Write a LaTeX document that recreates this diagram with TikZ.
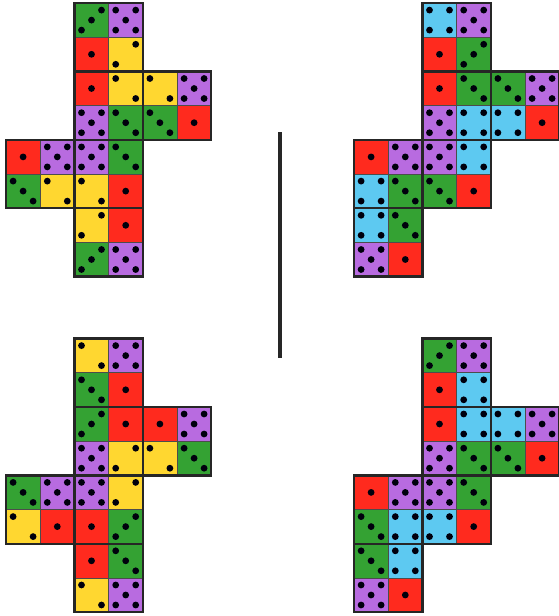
\documentclass[tikz,border=0pt]{standalone}
\definecolor{diceRed}{HTML}{FF2A1E}
\definecolor{diceYellow}{HTML}{FFD730}
\definecolor{diceGreen}{HTML}{34A233}
\definecolor{diceBlue}{HTML}{5DC9F1}
\definecolor{dicePurple}{HTML}{B86BE0}
\colorlet{dcR}{diceRed}
\colorlet{dcYa}{diceYellow}
\colorlet{dcYb}{diceYellow}
\colorlet{dcGa}{diceGreen}
\colorlet{dcGb}{diceGreen}
\colorlet{dcB}{diceBlue}
\colorlet{dcP}{dicePurple}
\usepackage{tikz}
\usetikzlibrary{positioning}
% pip offsets (y runs downwards)
\newcommand{\pipsR}{0/0}
\newcommand{\pipsYa}{-10/-10,10/10}
\newcommand{\pipsYb}{10/-10,-10/10}
\newcommand{\pipsGa}{-10/-10,0/0,10/10}
\newcommand{\pipsGb}{10/-10,0/0,-10/10}
\newcommand{\pipsB}{-10/-10,10/-10,-10/10,10/10}
\newcommand{\pipsP}{-10/-10,10/-10,0/0,-10/10,10/10}
\newcommand{\cell}{34.2}
\newcommand{\dicenet}[4]{% name, shift, faces, dice
  \begin{scope}[shift={#2}]
    \foreach \dcol/\drow/\dkind in {#4} {
      \node[die, fill=dc\dkind] (#1-\dcol-\drow)
        at ({(\dcol+0.5)*\cell},{(\drow+0.5)*\cell}) {};
      \expandafter\let\expandafter\piplist\csname pips\dkind\endcsname
      \foreach \px/\py in \piplist
        \fill[pip] (#1-\dcol-\drow) ++(\px,\py) circle (3.4pt);
    }
    \foreach \fcol/\frow in {#3}
      \node[facebox] (#1-f\fcol\frow)
        at ({(\fcol+1)*\cell},{(\frow+1)*\cell}) {};
  \end{scope}}

\begin{document}
\begin{tikzpicture}[x=1pt, y=-1pt,
  die/.style={draw=black!70, line width=0.7pt, minimum size=34.2pt,
    inner sep=0pt, outer sep=0pt},
  facebox/.style={draw=black!85, line width=2.4pt, minimum size=68.4pt,
    inner sep=0pt, outer sep=0pt},
  pip/.style={fill=black!95!blue},
  divider/.style={draw=black!85, line width=3.6pt}]
  \useasboundingbox (0,0) rectangle (559,616);

  \dicenet{tl}{(6,3)}{2/0,2/2,4/2,0/4,2/4,2/6}{
    2/0/Gb, 3/0/P, 2/1/R, 3/1/Yb, 2/2/R, 3/2/Ya, 4/2/Ya, 5/2/P,
    2/3/P, 3/3/Ga, 4/3/Ga, 5/3/R, 0/4/R, 1/4/P, 2/4/P, 3/4/Ga,
    0/5/Ga, 1/5/Ya, 2/5/Ya, 3/5/R, 2/6/Yb, 3/6/R, 2/7/Gb, 3/7/P}

  \dicenet{tr}{(354,3)}{2/0,2/2,4/2,0/4,2/4,0/6}{
    2/0/B, 3/0/P, 2/1/R, 3/1/Gb, 2/2/R, 3/2/Ga, 4/2/Ga, 5/2/P,
    2/3/P, 3/3/B, 4/3/B, 5/3/R, 0/4/R, 1/4/P, 2/4/P, 3/4/B,
    0/5/B, 1/5/Ga, 2/5/Ga, 3/5/R, 0/6/B, 1/6/Ga, 0/7/P, 1/7/R}

  \dicenet{bl}{(6,338.5)}{2/0,2/2,4/2,0/4,2/4,2/6}{
    2/0/Ya, 3/0/P, 2/1/Ga, 3/1/R, 2/2/Gb, 3/2/R, 4/2/R, 5/2/P,
    2/3/P, 3/3/Yb, 4/3/Ya, 5/3/Ga, 0/4/Ga, 1/4/P, 2/4/P, 3/4/Yb,
    0/5/Ya, 1/5/R, 2/5/R, 3/5/Gb, 2/6/R, 3/6/Ga, 2/7/Ya, 3/7/P}

  \dicenet{br}{(354,338.5)}{2/0,2/2,4/2,0/4,2/4,0/6}{
    2/0/Gb, 3/0/P, 2/1/R, 3/1/B, 2/2/R, 3/2/B, 4/2/B, 5/2/P,
    2/3/P, 3/3/Ga, 4/3/Ga, 5/3/R, 0/4/R, 1/4/P, 2/4/P, 3/4/Ga,
    0/5/Ga, 1/5/B, 2/5/B, 3/5/R, 0/6/Ga, 1/6/B, 0/7/P, 1/7/R}

  \coordinate (divtop) at (280,132);
  \coordinate (divbot) at (280,358);
  \draw[divider] (divtop) -- (divbot);
\end{tikzpicture}
\end{document}
